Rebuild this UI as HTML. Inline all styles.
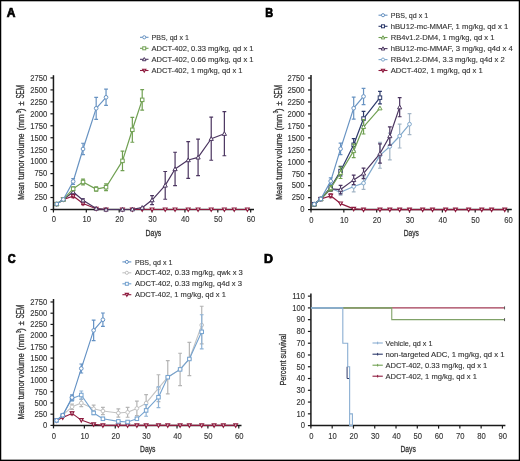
<!DOCTYPE html>
<html><head><meta charset="utf-8"><style>
html,body{margin:0;padding:0;background:#fff;}
svg{display:block;will-change:transform;}
text{font-family:"Liberation Sans", sans-serif;stroke:#333;stroke-width:0.12px;}
</style></head><body>
<svg width="520" height="461" viewBox="0 0 520 461">
<rect x="0" y="0" width="520" height="461" fill="#fff"/>
<text x="6.80" y="16.60" font-size="12" text-anchor="start" fill="#000" font-weight="bold" style="stroke:#000;stroke-width:0.7px">A</text>
<path d="M53.45,75.20 V210.25" stroke="#1a1a1a" stroke-width="1.5"/>
<path d="M52.70,209.50 H254.00" stroke="#1a1a1a" stroke-width="1.5"/>
<path d="M50.45,209.50 H53.45" stroke="#1a1a1a" stroke-width="1.2"/>
<text x="47.20" y="212.30" font-size="8.6" text-anchor="end" fill="#333333" font-weight="normal" textLength="4.25" lengthAdjust="spacingAndGlyphs">0</text>
<path d="M50.45,197.54 H53.45" stroke="#1a1a1a" stroke-width="1.2"/>
<text x="47.20" y="200.34" font-size="8.6" text-anchor="end" fill="#333333" font-weight="normal" textLength="12.75" lengthAdjust="spacingAndGlyphs">250</text>
<path d="M50.45,185.58 H53.45" stroke="#1a1a1a" stroke-width="1.2"/>
<text x="47.20" y="188.38" font-size="8.6" text-anchor="end" fill="#333333" font-weight="normal" textLength="12.75" lengthAdjust="spacingAndGlyphs">500</text>
<path d="M50.45,173.62 H53.45" stroke="#1a1a1a" stroke-width="1.2"/>
<text x="47.20" y="176.42" font-size="8.6" text-anchor="end" fill="#333333" font-weight="normal" textLength="12.75" lengthAdjust="spacingAndGlyphs">750</text>
<path d="M50.45,161.66 H53.45" stroke="#1a1a1a" stroke-width="1.2"/>
<text x="47.20" y="164.46" font-size="8.6" text-anchor="end" fill="#333333" font-weight="normal" textLength="17.0" lengthAdjust="spacingAndGlyphs">1000</text>
<path d="M50.45,149.70 H53.45" stroke="#1a1a1a" stroke-width="1.2"/>
<text x="47.20" y="152.50" font-size="8.6" text-anchor="end" fill="#333333" font-weight="normal" textLength="17.0" lengthAdjust="spacingAndGlyphs">1250</text>
<path d="M50.45,137.74 H53.45" stroke="#1a1a1a" stroke-width="1.2"/>
<text x="47.20" y="140.54" font-size="8.6" text-anchor="end" fill="#333333" font-weight="normal" textLength="17.0" lengthAdjust="spacingAndGlyphs">1500</text>
<path d="M50.45,125.78 H53.45" stroke="#1a1a1a" stroke-width="1.2"/>
<text x="47.20" y="128.58" font-size="8.6" text-anchor="end" fill="#333333" font-weight="normal" textLength="17.0" lengthAdjust="spacingAndGlyphs">1750</text>
<path d="M50.45,113.82 H53.45" stroke="#1a1a1a" stroke-width="1.2"/>
<text x="47.20" y="116.62" font-size="8.6" text-anchor="end" fill="#333333" font-weight="normal" textLength="17.0" lengthAdjust="spacingAndGlyphs">2000</text>
<path d="M50.45,101.86 H53.45" stroke="#1a1a1a" stroke-width="1.2"/>
<text x="47.20" y="104.66" font-size="8.6" text-anchor="end" fill="#333333" font-weight="normal" textLength="17.0" lengthAdjust="spacingAndGlyphs">2250</text>
<path d="M50.45,89.90 H53.45" stroke="#1a1a1a" stroke-width="1.2"/>
<text x="47.20" y="92.70" font-size="8.6" text-anchor="end" fill="#333333" font-weight="normal" textLength="17.0" lengthAdjust="spacingAndGlyphs">2500</text>
<path d="M50.45,77.94 H53.45" stroke="#1a1a1a" stroke-width="1.2"/>
<text x="47.20" y="80.74" font-size="8.6" text-anchor="end" fill="#333333" font-weight="normal" textLength="17.0" lengthAdjust="spacingAndGlyphs">2750</text>
<path d="M53.45,209.50 V212.50" stroke="#1a1a1a" stroke-width="1.2"/>
<text x="53.85" y="222.40" font-size="8.6" text-anchor="middle" fill="#333333" font-weight="normal" textLength="4.25" lengthAdjust="spacingAndGlyphs">0</text>
<path d="M86.32,209.50 V212.50" stroke="#1a1a1a" stroke-width="1.2"/>
<text x="86.72" y="222.40" font-size="8.6" text-anchor="middle" fill="#333333" font-weight="normal" textLength="8.5" lengthAdjust="spacingAndGlyphs">10</text>
<path d="M119.19,209.50 V212.50" stroke="#1a1a1a" stroke-width="1.2"/>
<text x="119.59" y="222.40" font-size="8.6" text-anchor="middle" fill="#333333" font-weight="normal" textLength="8.5" lengthAdjust="spacingAndGlyphs">20</text>
<path d="M152.06,209.50 V212.50" stroke="#1a1a1a" stroke-width="1.2"/>
<text x="152.46" y="222.40" font-size="8.6" text-anchor="middle" fill="#333333" font-weight="normal" textLength="8.5" lengthAdjust="spacingAndGlyphs">30</text>
<path d="M184.93,209.50 V212.50" stroke="#1a1a1a" stroke-width="1.2"/>
<text x="185.33" y="222.40" font-size="8.6" text-anchor="middle" fill="#333333" font-weight="normal" textLength="8.5" lengthAdjust="spacingAndGlyphs">40</text>
<path d="M217.80,209.50 V212.50" stroke="#1a1a1a" stroke-width="1.2"/>
<text x="218.20" y="222.40" font-size="8.6" text-anchor="middle" fill="#333333" font-weight="normal" textLength="8.5" lengthAdjust="spacingAndGlyphs">50</text>
<path d="M250.67,209.50 V212.50" stroke="#1a1a1a" stroke-width="1.2"/>
<text x="251.07" y="222.40" font-size="8.6" text-anchor="middle" fill="#333333" font-weight="normal" textLength="8.5" lengthAdjust="spacingAndGlyphs">60</text>
<text transform="translate(24.10,199.80) rotate(-90)" font-size="9.30" fill="#333333" style="stroke-width:0.3px" textLength="17.50" lengthAdjust="spacingAndGlyphs">Mean</text>
<text transform="translate(24.10,179.70) rotate(-90)" font-size="9.30" fill="#333333" style="stroke-width:0.3px" textLength="19.90" lengthAdjust="spacingAndGlyphs">tumor</text>
<text transform="translate(24.10,158.40) rotate(-90)" font-size="9.30" fill="#333333" style="stroke-width:0.3px" textLength="25.00" lengthAdjust="spacingAndGlyphs">volume</text>
<text transform="translate(24.10,130.50) rotate(-90)" font-size="9.30" fill="#333333" style="stroke-width:0.3px" textLength="16.40" lengthAdjust="spacingAndGlyphs">(mm</text>
<text transform="translate(20.70,113.20) rotate(-90)" font-size="6.51" fill="#333333" style="stroke-width:0.3px" textLength="2.50" lengthAdjust="spacingAndGlyphs">3</text>
<text transform="translate(24.10,111.20) rotate(-90)" font-size="9.30" fill="#333333" style="stroke-width:0.3px" textLength="2.80" lengthAdjust="spacingAndGlyphs">)</text>
<text transform="translate(24.10,105.40) rotate(-90)" font-size="9.30" fill="#333333" style="stroke-width:0.3px" textLength="4.00" lengthAdjust="spacingAndGlyphs">±</text>
<text transform="translate(24.10,98.60) rotate(-90)" font-size="10.04" fill="#333333" style="stroke-width:0.3px" textLength="13.60" lengthAdjust="spacingAndGlyphs">SEM</text>
<text x="153.45" y="235.70" font-size="9.4" text-anchor="middle" fill="#333333" font-weight="normal" textLength="15.7" lengthAdjust="spacingAndGlyphs" style="stroke-width:0.3px">Days</text>
<path d="M56.74,204.00 L63.31,199.45 L73.17,196.10 L83.03,203.47 L96.18,208.78 L106.04,209.50 L122.48,209.50 L132.34,209.50 L142.20,209.50 L152.06,209.50 L165.21,209.50 L175.07,209.50 L188.22,209.50 L198.08,209.50 L211.23,209.50 L224.37,209.50 L234.24,209.50 L247.38,209.50" fill="none" stroke="#8e1a3e" stroke-width="1.2" stroke-linejoin="round"/>
<path d="M73.17,194.67 V197.54 M71.27,194.67 H75.07 M71.27,197.54 H75.07" stroke="#8e1a3e" stroke-width="1.2" fill="none"/>
<path d="M83.03,202.28 V204.67 M81.13,202.28 H84.93 M81.13,204.67 H84.93" stroke="#8e1a3e" stroke-width="1.2" fill="none"/>
<path d="M54.84,202.48 L58.64,202.48 L56.74,205.90 Z" fill="#fff" stroke="#8e1a3e" stroke-width="1.1"/>
<path d="M61.41,197.93 L65.21,197.93 L63.31,201.35 Z" fill="#fff" stroke="#8e1a3e" stroke-width="1.1"/>
<path d="M71.27,194.58 L75.07,194.58 L73.17,198.00 Z" fill="#fff" stroke="#8e1a3e" stroke-width="1.1"/>
<path d="M81.13,201.95 L84.93,201.95 L83.03,205.37 Z" fill="#fff" stroke="#8e1a3e" stroke-width="1.1"/>
<path d="M94.28,207.26 L98.08,207.26 L96.18,210.68 Z" fill="#fff" stroke="#8e1a3e" stroke-width="1.1"/>
<path d="M104.14,207.98 L107.94,207.98 L106.04,211.40 Z" fill="#fff" stroke="#8e1a3e" stroke-width="1.1"/>
<path d="M120.58,207.98 L124.38,207.98 L122.48,211.40 Z" fill="#fff" stroke="#8e1a3e" stroke-width="1.1"/>
<path d="M130.44,207.98 L134.24,207.98 L132.34,211.40 Z" fill="#fff" stroke="#8e1a3e" stroke-width="1.1"/>
<path d="M140.30,207.98 L144.10,207.98 L142.20,211.40 Z" fill="#fff" stroke="#8e1a3e" stroke-width="1.1"/>
<path d="M150.16,207.98 L153.96,207.98 L152.06,211.40 Z" fill="#fff" stroke="#8e1a3e" stroke-width="1.1"/>
<path d="M163.31,207.98 L167.11,207.98 L165.21,211.40 Z" fill="#fff" stroke="#8e1a3e" stroke-width="1.1"/>
<path d="M173.17,207.98 L176.97,207.98 L175.07,211.40 Z" fill="#fff" stroke="#8e1a3e" stroke-width="1.1"/>
<path d="M186.32,207.98 L190.12,207.98 L188.22,211.40 Z" fill="#fff" stroke="#8e1a3e" stroke-width="1.1"/>
<path d="M196.18,207.98 L199.98,207.98 L198.08,211.40 Z" fill="#fff" stroke="#8e1a3e" stroke-width="1.1"/>
<path d="M209.33,207.98 L213.13,207.98 L211.23,211.40 Z" fill="#fff" stroke="#8e1a3e" stroke-width="1.1"/>
<path d="M222.47,207.98 L226.27,207.98 L224.37,211.40 Z" fill="#fff" stroke="#8e1a3e" stroke-width="1.1"/>
<path d="M232.34,207.98 L236.14,207.98 L234.24,211.40 Z" fill="#fff" stroke="#8e1a3e" stroke-width="1.1"/>
<path d="M245.48,207.98 L249.28,207.98 L247.38,211.40 Z" fill="#fff" stroke="#8e1a3e" stroke-width="1.1"/>
<path d="M56.74,204.00 L63.31,199.45 L73.17,192.04 L83.03,200.27 L96.18,208.54 L106.04,209.50 L122.48,209.50 L132.34,209.26 L142.20,207.68 L152.06,200.08 L165.21,185.39 L175.07,168.98 L188.22,160.03 L198.08,157.35 L211.23,138.74 L224.37,133.72" fill="none" stroke="#4b3560" stroke-width="1.2" stroke-linejoin="round"/>
<path d="M73.17,190.60 V193.47 M71.27,190.60 H75.07 M71.27,193.47 H75.07" stroke="#4b3560" stroke-width="1.2" fill="none"/>
<path d="M83.03,198.83 V201.70 M81.13,198.83 H84.93 M81.13,201.70 H84.93" stroke="#4b3560" stroke-width="1.2" fill="none"/>
<path d="M152.06,195.53 V204.62 M150.16,195.53 H153.96 M150.16,204.62 H153.96" stroke="#4b3560" stroke-width="1.2" fill="none"/>
<path d="M165.21,171.52 V199.26 M163.31,171.52 H167.11 M163.31,199.26 H167.11" stroke="#4b3560" stroke-width="1.2" fill="none"/>
<path d="M175.07,152.24 V185.72 M173.17,152.24 H176.97 M173.17,185.72 H176.97" stroke="#4b3560" stroke-width="1.2" fill="none"/>
<path d="M188.22,141.62 V178.45 M186.32,141.62 H190.12 M186.32,178.45 H190.12" stroke="#4b3560" stroke-width="1.2" fill="none"/>
<path d="M198.08,139.18 V175.53 M196.18,139.18 H199.98 M196.18,175.53 H199.98" stroke="#4b3560" stroke-width="1.2" fill="none"/>
<path d="M211.23,117.22 V160.27 M209.33,117.22 H213.13 M209.33,160.27 H213.13" stroke="#4b3560" stroke-width="1.2" fill="none"/>
<path d="M224.37,111.72 V155.73 M222.47,111.72 H226.27 M222.47,155.73 H226.27" stroke="#4b3560" stroke-width="1.2" fill="none"/>
<path d="M56.74,201.90 L58.84,205.68 L54.64,205.68 Z" fill="#fff" stroke="#4b3560" stroke-width="1"/>
<path d="M63.31,197.35 L65.41,201.13 L61.21,201.13 Z" fill="#fff" stroke="#4b3560" stroke-width="1"/>
<path d="M73.17,189.94 L75.27,193.72 L71.07,193.72 Z" fill="#fff" stroke="#4b3560" stroke-width="1"/>
<path d="M83.03,198.17 L85.13,201.95 L80.93,201.95 Z" fill="#fff" stroke="#4b3560" stroke-width="1"/>
<path d="M96.18,206.44 L98.28,210.22 L94.08,210.22 Z" fill="#fff" stroke="#4b3560" stroke-width="1"/>
<path d="M106.04,207.40 L108.14,211.18 L103.94,211.18 Z" fill="#fff" stroke="#4b3560" stroke-width="1"/>
<path d="M122.48,207.40 L124.58,211.18 L120.38,211.18 Z" fill="#fff" stroke="#4b3560" stroke-width="1"/>
<path d="M132.34,207.16 L134.44,210.94 L130.24,210.94 Z" fill="#fff" stroke="#4b3560" stroke-width="1"/>
<path d="M142.20,205.58 L144.30,209.36 L140.10,209.36 Z" fill="#fff" stroke="#4b3560" stroke-width="1"/>
<path d="M152.06,197.98 L154.16,201.76 L149.96,201.76 Z" fill="#fff" stroke="#4b3560" stroke-width="1"/>
<path d="M165.21,183.29 L167.31,187.07 L163.11,187.07 Z" fill="#fff" stroke="#4b3560" stroke-width="1"/>
<path d="M175.07,166.88 L177.17,170.66 L172.97,170.66 Z" fill="#fff" stroke="#4b3560" stroke-width="1"/>
<path d="M188.22,157.93 L190.32,161.71 L186.12,161.71 Z" fill="#fff" stroke="#4b3560" stroke-width="1"/>
<path d="M198.08,155.25 L200.18,159.03 L195.98,159.03 Z" fill="#fff" stroke="#4b3560" stroke-width="1"/>
<path d="M211.23,136.64 L213.33,140.42 L209.13,140.42 Z" fill="#fff" stroke="#4b3560" stroke-width="1"/>
<path d="M224.37,131.62 L226.47,135.40 L222.27,135.40 Z" fill="#fff" stroke="#4b3560" stroke-width="1"/>
<path d="M56.74,204.00 L63.31,199.45 L73.17,188.79 L83.03,181.99 L96.18,189.12 L106.04,187.21 L122.48,160.85 L132.34,129.80 L142.20,99.85" fill="none" stroke="#70a052" stroke-width="1.2" stroke-linejoin="round"/>
<path d="M73.17,186.87 V190.70 M71.27,186.87 H75.07 M71.27,190.70 H75.07" stroke="#70a052" stroke-width="1.2" fill="none"/>
<path d="M83.03,179.12 V184.86 M81.13,179.12 H84.93 M81.13,184.86 H84.93" stroke="#70a052" stroke-width="1.2" fill="none"/>
<path d="M96.18,186.97 V191.27 M94.28,186.97 H98.08 M94.28,191.27 H98.08" stroke="#70a052" stroke-width="1.2" fill="none"/>
<path d="M106.04,183.86 V190.56 M104.14,183.86 H107.94 M104.14,190.56 H107.94" stroke="#70a052" stroke-width="1.2" fill="none"/>
<path d="M122.48,151.04 V170.65 M120.58,151.04 H124.38 M120.58,170.65 H124.38" stroke="#70a052" stroke-width="1.2" fill="none"/>
<path d="M132.34,117.36 V142.24 M130.44,117.36 H134.24 M130.44,142.24 H134.24" stroke="#70a052" stroke-width="1.2" fill="none"/>
<path d="M142.20,89.57 V110.14 M140.30,89.57 H144.10 M140.30,110.14 H144.10" stroke="#70a052" stroke-width="1.2" fill="none"/>
<rect x="54.99" y="202.25" width="3.50" height="3.50" fill="#fff" stroke="#70a052" stroke-width="1"/>
<rect x="61.56" y="197.70" width="3.50" height="3.50" fill="#fff" stroke="#70a052" stroke-width="1"/>
<rect x="71.42" y="187.04" width="3.50" height="3.50" fill="#fff" stroke="#70a052" stroke-width="1"/>
<rect x="81.28" y="180.24" width="3.50" height="3.50" fill="#fff" stroke="#70a052" stroke-width="1"/>
<rect x="94.43" y="187.37" width="3.50" height="3.50" fill="#fff" stroke="#70a052" stroke-width="1"/>
<rect x="104.29" y="185.46" width="3.50" height="3.50" fill="#fff" stroke="#70a052" stroke-width="1"/>
<rect x="120.73" y="159.10" width="3.50" height="3.50" fill="#fff" stroke="#70a052" stroke-width="1"/>
<rect x="130.59" y="128.05" width="3.50" height="3.50" fill="#fff" stroke="#70a052" stroke-width="1"/>
<rect x="140.45" y="98.10" width="3.50" height="3.50" fill="#fff" stroke="#70a052" stroke-width="1"/>
<path d="M56.74,204.00 L63.31,199.45 L73.17,181.47 L83.03,148.98 L96.18,108.32 L106.04,97.32" fill="none" stroke="#6893c2" stroke-width="1.2" stroke-linejoin="round"/>
<path d="M73.17,178.60 V184.34 M71.27,178.60 H75.07 M71.27,184.34 H75.07" stroke="#6893c2" stroke-width="1.2" fill="none"/>
<path d="M83.03,143.24 V154.72 M81.13,143.24 H84.93 M81.13,154.72 H84.93" stroke="#6893c2" stroke-width="1.2" fill="none"/>
<path d="M96.18,97.32 V119.32 M94.28,97.32 H98.08 M94.28,119.32 H98.08" stroke="#6893c2" stroke-width="1.2" fill="none"/>
<path d="M106.04,89.18 V105.45 M104.14,89.18 H107.94 M104.14,105.45 H107.94" stroke="#6893c2" stroke-width="1.2" fill="none"/>
<circle cx="56.74" cy="204.00" r="1.85" fill="#fff" stroke="#6893c2" stroke-width="1"/>
<circle cx="63.31" cy="199.45" r="1.85" fill="#fff" stroke="#6893c2" stroke-width="1"/>
<circle cx="73.17" cy="181.47" r="1.85" fill="#fff" stroke="#6893c2" stroke-width="1"/>
<circle cx="83.03" cy="148.98" r="1.85" fill="#fff" stroke="#6893c2" stroke-width="1"/>
<circle cx="96.18" cy="108.32" r="1.85" fill="#fff" stroke="#6893c2" stroke-width="1"/>
<circle cx="106.04" cy="97.32" r="1.85" fill="#fff" stroke="#6893c2" stroke-width="1"/>
<path d="M140,37.30 H148.5" stroke="#6893c2" stroke-width="1.1"/>
<circle cx="144.25" cy="37.30" r="1.57" fill="#fff" stroke="#6893c2" stroke-width="1"/>
<text x="151.50" y="39.90" font-size="7.5" text-anchor="start" fill="#333333" font-weight="normal" textLength="37.5" lengthAdjust="spacingAndGlyphs">PBS, qd x 1</text>
<path d="M140,48.30 H148.5" stroke="#70a052" stroke-width="1.1"/>
<rect x="142.76" y="46.81" width="2.98" height="2.98" fill="#fff" stroke="#70a052" stroke-width="1"/>
<text x="151.50" y="50.90" font-size="7.5" text-anchor="start" fill="#333333" font-weight="normal" textLength="102" lengthAdjust="spacingAndGlyphs">ADCT-402, 0.33 mg/kg, qd x 1</text>
<path d="M140,59.30 H148.5" stroke="#4b3560" stroke-width="1.1"/>
<path d="M144.25,57.52 L146.03,60.73 L142.47,60.73 Z" fill="#fff" stroke="#4b3560" stroke-width="1"/>
<text x="151.50" y="61.90" font-size="7.5" text-anchor="start" fill="#333333" font-weight="normal" textLength="102" lengthAdjust="spacingAndGlyphs">ADCT-402, 0.66 mg/kg, qd x 1</text>
<path d="M140,70.50 H148.5" stroke="#8e1a3e" stroke-width="1.1"/>
<path d="M142.63,69.21 L145.87,69.21 L144.25,72.11 Z" fill="#fff" stroke="#8e1a3e" stroke-width="1.1"/>
<text x="151.50" y="73.10" font-size="7.5" text-anchor="start" fill="#333333" font-weight="normal" textLength="91" lengthAdjust="spacingAndGlyphs">ADCT-402, 1 mg/kg, qd x 1</text>
<text x="265.30" y="16.60" font-size="12" text-anchor="start" fill="#000" font-weight="bold" textLength="7.9" lengthAdjust="spacingAndGlyphs" style="stroke:#000;stroke-width:0.7px">B</text>
<path d="M311.00,75.00 V210.35" stroke="#1a1a1a" stroke-width="1.5"/>
<path d="M310.25,209.60 H511.80" stroke="#1a1a1a" stroke-width="1.5"/>
<path d="M308.00,209.60 H311.0" stroke="#1a1a1a" stroke-width="1.2"/>
<text x="304.60" y="212.40" font-size="8.6" text-anchor="end" fill="#333333" font-weight="normal" textLength="4.25" lengthAdjust="spacingAndGlyphs">0</text>
<path d="M308.00,197.64 H311.0" stroke="#1a1a1a" stroke-width="1.2"/>
<text x="304.60" y="200.44" font-size="8.6" text-anchor="end" fill="#333333" font-weight="normal" textLength="12.75" lengthAdjust="spacingAndGlyphs">250</text>
<path d="M308.00,185.68 H311.0" stroke="#1a1a1a" stroke-width="1.2"/>
<text x="304.60" y="188.48" font-size="8.6" text-anchor="end" fill="#333333" font-weight="normal" textLength="12.75" lengthAdjust="spacingAndGlyphs">500</text>
<path d="M308.00,173.72 H311.0" stroke="#1a1a1a" stroke-width="1.2"/>
<text x="304.60" y="176.52" font-size="8.6" text-anchor="end" fill="#333333" font-weight="normal" textLength="12.75" lengthAdjust="spacingAndGlyphs">750</text>
<path d="M308.00,161.76 H311.0" stroke="#1a1a1a" stroke-width="1.2"/>
<text x="304.60" y="164.56" font-size="8.6" text-anchor="end" fill="#333333" font-weight="normal" textLength="17.0" lengthAdjust="spacingAndGlyphs">1000</text>
<path d="M308.00,149.80 H311.0" stroke="#1a1a1a" stroke-width="1.2"/>
<text x="304.60" y="152.60" font-size="8.6" text-anchor="end" fill="#333333" font-weight="normal" textLength="17.0" lengthAdjust="spacingAndGlyphs">1250</text>
<path d="M308.00,137.84 H311.0" stroke="#1a1a1a" stroke-width="1.2"/>
<text x="304.60" y="140.64" font-size="8.6" text-anchor="end" fill="#333333" font-weight="normal" textLength="17.0" lengthAdjust="spacingAndGlyphs">1500</text>
<path d="M308.00,125.88 H311.0" stroke="#1a1a1a" stroke-width="1.2"/>
<text x="304.60" y="128.68" font-size="8.6" text-anchor="end" fill="#333333" font-weight="normal" textLength="17.0" lengthAdjust="spacingAndGlyphs">1750</text>
<path d="M308.00,113.92 H311.0" stroke="#1a1a1a" stroke-width="1.2"/>
<text x="304.60" y="116.72" font-size="8.6" text-anchor="end" fill="#333333" font-weight="normal" textLength="17.0" lengthAdjust="spacingAndGlyphs">2000</text>
<path d="M308.00,101.96 H311.0" stroke="#1a1a1a" stroke-width="1.2"/>
<text x="304.60" y="104.76" font-size="8.6" text-anchor="end" fill="#333333" font-weight="normal" textLength="17.0" lengthAdjust="spacingAndGlyphs">2250</text>
<path d="M308.00,90.00 H311.0" stroke="#1a1a1a" stroke-width="1.2"/>
<text x="304.60" y="92.80" font-size="8.6" text-anchor="end" fill="#333333" font-weight="normal" textLength="17.0" lengthAdjust="spacingAndGlyphs">2500</text>
<path d="M308.00,78.04 H311.0" stroke="#1a1a1a" stroke-width="1.2"/>
<text x="304.60" y="80.84" font-size="8.6" text-anchor="end" fill="#333333" font-weight="normal" textLength="17.0" lengthAdjust="spacingAndGlyphs">2750</text>
<path d="M311.00,209.60 V212.60" stroke="#1a1a1a" stroke-width="1.2"/>
<text x="311.40" y="222.50" font-size="8.6" text-anchor="middle" fill="#333333" font-weight="normal" textLength="4.25" lengthAdjust="spacingAndGlyphs">0</text>
<path d="M343.84,209.60 V212.60" stroke="#1a1a1a" stroke-width="1.2"/>
<text x="344.24" y="222.50" font-size="8.6" text-anchor="middle" fill="#333333" font-weight="normal" textLength="8.5" lengthAdjust="spacingAndGlyphs">10</text>
<path d="M376.68,209.60 V212.60" stroke="#1a1a1a" stroke-width="1.2"/>
<text x="377.08" y="222.50" font-size="8.6" text-anchor="middle" fill="#333333" font-weight="normal" textLength="8.5" lengthAdjust="spacingAndGlyphs">20</text>
<path d="M409.52,209.60 V212.60" stroke="#1a1a1a" stroke-width="1.2"/>
<text x="409.92" y="222.50" font-size="8.6" text-anchor="middle" fill="#333333" font-weight="normal" textLength="8.5" lengthAdjust="spacingAndGlyphs">30</text>
<path d="M442.36,209.60 V212.60" stroke="#1a1a1a" stroke-width="1.2"/>
<text x="442.76" y="222.50" font-size="8.6" text-anchor="middle" fill="#333333" font-weight="normal" textLength="8.5" lengthAdjust="spacingAndGlyphs">40</text>
<path d="M475.20,209.60 V212.60" stroke="#1a1a1a" stroke-width="1.2"/>
<text x="475.60" y="222.50" font-size="8.6" text-anchor="middle" fill="#333333" font-weight="normal" textLength="8.5" lengthAdjust="spacingAndGlyphs">50</text>
<path d="M508.04,209.60 V212.60" stroke="#1a1a1a" stroke-width="1.2"/>
<text x="508.44" y="222.50" font-size="8.6" text-anchor="middle" fill="#333333" font-weight="normal" textLength="8.5" lengthAdjust="spacingAndGlyphs">60</text>
<text transform="translate(281.70,199.80) rotate(-90)" font-size="9.30" fill="#333333" style="stroke-width:0.3px" textLength="17.50" lengthAdjust="spacingAndGlyphs">Mean</text>
<text transform="translate(281.70,179.70) rotate(-90)" font-size="9.30" fill="#333333" style="stroke-width:0.3px" textLength="19.90" lengthAdjust="spacingAndGlyphs">tumor</text>
<text transform="translate(281.70,158.40) rotate(-90)" font-size="9.30" fill="#333333" style="stroke-width:0.3px" textLength="25.00" lengthAdjust="spacingAndGlyphs">volume</text>
<text transform="translate(281.70,130.50) rotate(-90)" font-size="9.30" fill="#333333" style="stroke-width:0.3px" textLength="16.40" lengthAdjust="spacingAndGlyphs">(mm</text>
<text transform="translate(278.30,113.20) rotate(-90)" font-size="6.51" fill="#333333" style="stroke-width:0.3px" textLength="2.50" lengthAdjust="spacingAndGlyphs">3</text>
<text transform="translate(281.70,111.20) rotate(-90)" font-size="9.30" fill="#333333" style="stroke-width:0.3px" textLength="2.80" lengthAdjust="spacingAndGlyphs">)</text>
<text transform="translate(281.70,105.40) rotate(-90)" font-size="9.30" fill="#333333" style="stroke-width:0.3px" textLength="4.00" lengthAdjust="spacingAndGlyphs">±</text>
<text transform="translate(281.70,98.60) rotate(-90)" font-size="10.04" fill="#333333" style="stroke-width:0.3px" textLength="13.60" lengthAdjust="spacingAndGlyphs">SEM</text>
<text x="411.30" y="235.80" font-size="9.4" text-anchor="middle" fill="#333333" font-weight="normal" textLength="15.2" lengthAdjust="spacingAndGlyphs" style="stroke-width:0.3px">Days</text>
<path d="M314.28,204.19 L320.85,198.98 L330.70,195.82 L340.56,203.57 L353.69,208.88 L363.54,209.60 L379.96,209.60 L389.82,209.60 L399.67,209.60 L409.52,209.60 L422.66,209.60 L432.51,209.60 L445.64,209.60 L455.50,209.60 L468.63,209.60 L481.77,209.60 L491.62,209.60 L504.76,209.60" fill="none" stroke="#8e1a3e" stroke-width="1.2" stroke-linejoin="round"/>
<path d="M330.70,193.91 V197.74 M328.80,193.91 H332.60 M328.80,197.74 H332.60" stroke="#8e1a3e" stroke-width="1.2" fill="none"/>
<path d="M312.38,202.67 L316.18,202.67 L314.28,206.09 Z" fill="#fff" stroke="#8e1a3e" stroke-width="1.1"/>
<path d="M318.95,197.46 L322.75,197.46 L320.85,200.88 Z" fill="#fff" stroke="#8e1a3e" stroke-width="1.1"/>
<path d="M328.80,194.30 L332.60,194.30 L330.70,197.72 Z" fill="#fff" stroke="#8e1a3e" stroke-width="1.1"/>
<path d="M338.66,202.05 L342.46,202.05 L340.56,205.47 Z" fill="#fff" stroke="#8e1a3e" stroke-width="1.1"/>
<path d="M351.79,207.36 L355.59,207.36 L353.69,210.78 Z" fill="#fff" stroke="#8e1a3e" stroke-width="1.1"/>
<path d="M361.64,208.08 L365.44,208.08 L363.54,211.50 Z" fill="#fff" stroke="#8e1a3e" stroke-width="1.1"/>
<path d="M378.06,208.08 L381.86,208.08 L379.96,211.50 Z" fill="#fff" stroke="#8e1a3e" stroke-width="1.1"/>
<path d="M387.92,208.08 L391.72,208.08 L389.82,211.50 Z" fill="#fff" stroke="#8e1a3e" stroke-width="1.1"/>
<path d="M397.77,208.08 L401.57,208.08 L399.67,211.50 Z" fill="#fff" stroke="#8e1a3e" stroke-width="1.1"/>
<path d="M407.62,208.08 L411.42,208.08 L409.52,211.50 Z" fill="#fff" stroke="#8e1a3e" stroke-width="1.1"/>
<path d="M420.76,208.08 L424.56,208.08 L422.66,211.50 Z" fill="#fff" stroke="#8e1a3e" stroke-width="1.1"/>
<path d="M430.61,208.08 L434.41,208.08 L432.51,211.50 Z" fill="#fff" stroke="#8e1a3e" stroke-width="1.1"/>
<path d="M443.74,208.08 L447.54,208.08 L445.64,211.50 Z" fill="#fff" stroke="#8e1a3e" stroke-width="1.1"/>
<path d="M453.60,208.08 L457.40,208.08 L455.50,211.50 Z" fill="#fff" stroke="#8e1a3e" stroke-width="1.1"/>
<path d="M466.73,208.08 L470.53,208.08 L468.63,211.50 Z" fill="#fff" stroke="#8e1a3e" stroke-width="1.1"/>
<path d="M479.87,208.08 L483.67,208.08 L481.77,211.50 Z" fill="#fff" stroke="#8e1a3e" stroke-width="1.1"/>
<path d="M489.72,208.08 L493.52,208.08 L491.62,211.50 Z" fill="#fff" stroke="#8e1a3e" stroke-width="1.1"/>
<path d="M502.86,208.08 L506.66,208.08 L504.76,211.50 Z" fill="#fff" stroke="#8e1a3e" stroke-width="1.1"/>
<path d="M314.28,204.19 L320.85,198.98 L330.70,188.55 L340.56,192.28 L353.69,186.54 L363.54,183.10 L379.96,155.35 L389.82,146.50 L399.67,136.02 L409.52,124.16" fill="none" stroke="#7fa8cc" stroke-width="1.2" stroke-linejoin="round"/>
<path d="M330.70,186.16 V190.94 M328.80,186.16 H332.60 M328.80,190.94 H332.60" stroke="#a3b5c6" stroke-width="1.2" fill="none"/>
<path d="M340.56,189.41 V195.15 M338.66,189.41 H342.46 M338.66,195.15 H342.46" stroke="#a3b5c6" stroke-width="1.2" fill="none"/>
<path d="M353.69,181.28 V191.80 M351.79,181.28 H355.59 M351.79,191.80 H355.59" stroke="#a3b5c6" stroke-width="1.2" fill="none"/>
<path d="M363.54,176.88 V189.32 M361.64,176.88 H365.44 M361.64,189.32 H365.44" stroke="#a3b5c6" stroke-width="1.2" fill="none"/>
<path d="M379.96,142.43 V168.27 M378.06,142.43 H381.86 M378.06,168.27 H381.86" stroke="#a3b5c6" stroke-width="1.2" fill="none"/>
<path d="M389.82,133.10 V159.89 M387.92,133.10 H391.72 M387.92,159.89 H391.72" stroke="#a3b5c6" stroke-width="1.2" fill="none"/>
<path d="M399.67,124.06 V147.98 M397.77,124.06 H401.57 M397.77,147.98 H401.57" stroke="#a3b5c6" stroke-width="1.2" fill="none"/>
<path d="M409.52,113.63 V134.68 M407.62,113.63 H411.42 M407.62,134.68 H411.42" stroke="#a3b5c6" stroke-width="1.2" fill="none"/>
<circle cx="314.28" cy="204.19" r="1.85" fill="#fff" stroke="#7fa8cc" stroke-width="1"/>
<circle cx="320.85" cy="198.98" r="1.85" fill="#fff" stroke="#7fa8cc" stroke-width="1"/>
<circle cx="330.70" cy="188.55" r="1.85" fill="#fff" stroke="#7fa8cc" stroke-width="1"/>
<circle cx="340.56" cy="192.28" r="1.85" fill="#fff" stroke="#7fa8cc" stroke-width="1"/>
<circle cx="353.69" cy="186.54" r="1.85" fill="#fff" stroke="#7fa8cc" stroke-width="1"/>
<circle cx="363.54" cy="183.10" r="1.85" fill="#fff" stroke="#7fa8cc" stroke-width="1"/>
<circle cx="379.96" cy="155.35" r="1.85" fill="#fff" stroke="#7fa8cc" stroke-width="1"/>
<circle cx="389.82" cy="146.50" r="1.85" fill="#fff" stroke="#7fa8cc" stroke-width="1"/>
<circle cx="399.67" cy="136.02" r="1.85" fill="#fff" stroke="#7fa8cc" stroke-width="1"/>
<circle cx="409.52" cy="124.16" r="1.85" fill="#fff" stroke="#7fa8cc" stroke-width="1"/>
<path d="M314.28,204.19 L320.85,198.98 L330.70,188.79 L340.56,189.60 L353.69,179.89 L363.54,173.39 L379.96,153.53 L389.82,136.02 L399.67,107.17" fill="none" stroke="#4b3560" stroke-width="1.2" stroke-linejoin="round"/>
<path d="M330.70,186.40 V191.18 M328.80,186.40 H332.60 M328.80,191.18 H332.60" stroke="#4b3560" stroke-width="1.2" fill="none"/>
<path d="M340.56,185.30 V193.91 M338.66,185.30 H342.46 M338.66,193.91 H342.46" stroke="#4b3560" stroke-width="1.2" fill="none"/>
<path d="M353.69,175.11 V184.68 M351.79,175.11 H355.59 M351.79,184.68 H355.59" stroke="#4b3560" stroke-width="1.2" fill="none"/>
<path d="M363.54,168.12 V178.65 M361.64,168.12 H365.44 M361.64,178.65 H365.44" stroke="#4b3560" stroke-width="1.2" fill="none"/>
<path d="M379.96,143.96 V163.10 M378.06,143.96 H381.86 M378.06,163.10 H381.86" stroke="#4b3560" stroke-width="1.2" fill="none"/>
<path d="M389.82,126.93 V145.11 M387.92,126.93 H391.72 M387.92,145.11 H391.72" stroke="#4b3560" stroke-width="1.2" fill="none"/>
<path d="M399.67,97.61 V116.74 M397.77,97.61 H401.57 M397.77,116.74 H401.57" stroke="#4b3560" stroke-width="1.2" fill="none"/>
<path d="M314.28,202.09 L316.38,205.87 L312.18,205.87 Z" fill="#fff" stroke="#4b3560" stroke-width="1"/>
<path d="M320.85,196.88 L322.95,200.66 L318.75,200.66 Z" fill="#fff" stroke="#4b3560" stroke-width="1"/>
<path d="M330.70,186.69 L332.80,190.47 L328.60,190.47 Z" fill="#fff" stroke="#4b3560" stroke-width="1"/>
<path d="M340.56,187.50 L342.66,191.28 L338.46,191.28 Z" fill="#fff" stroke="#4b3560" stroke-width="1"/>
<path d="M353.69,177.79 L355.79,181.57 L351.59,181.57 Z" fill="#fff" stroke="#4b3560" stroke-width="1"/>
<path d="M363.54,171.29 L365.64,175.07 L361.44,175.07 Z" fill="#fff" stroke="#4b3560" stroke-width="1"/>
<path d="M379.96,151.43 L382.06,155.21 L377.86,155.21 Z" fill="#fff" stroke="#4b3560" stroke-width="1"/>
<path d="M389.82,133.92 L391.92,137.70 L387.72,137.70 Z" fill="#fff" stroke="#4b3560" stroke-width="1"/>
<path d="M399.67,105.07 L401.77,108.85 L397.57,108.85 Z" fill="#fff" stroke="#4b3560" stroke-width="1"/>
<path d="M314.28,204.19 L320.85,198.98 L330.70,187.35 L340.56,171.09 L353.69,144.78 L363.54,118.56 L379.96,97.65" fill="none" stroke="#2d3a6b" stroke-width="1.2" stroke-linejoin="round"/>
<path d="M330.70,184.48 V190.22 M328.80,184.48 H332.60 M328.80,190.22 H332.60" stroke="#2d3a6b" stroke-width="1.2" fill="none"/>
<path d="M340.56,166.30 V175.87 M338.66,166.30 H342.46 M338.66,175.87 H342.46" stroke="#2d3a6b" stroke-width="1.2" fill="none"/>
<path d="M353.69,138.56 V151.00 M351.79,138.56 H355.59 M351.79,151.00 H355.59" stroke="#2d3a6b" stroke-width="1.2" fill="none"/>
<path d="M363.54,111.38 V125.74 M361.64,111.38 H365.44 M361.64,125.74 H365.44" stroke="#2d3a6b" stroke-width="1.2" fill="none"/>
<path d="M379.96,91.44 V103.87 M378.06,91.44 H381.86 M378.06,103.87 H381.86" stroke="#2d3a6b" stroke-width="1.2" fill="none"/>
<rect x="312.53" y="202.44" width="3.50" height="3.50" fill="#fff" stroke="#2d3a6b" stroke-width="1"/>
<rect x="319.10" y="197.23" width="3.50" height="3.50" fill="#fff" stroke="#2d3a6b" stroke-width="1"/>
<rect x="328.95" y="185.60" width="3.50" height="3.50" fill="#fff" stroke="#2d3a6b" stroke-width="1"/>
<rect x="338.81" y="169.34" width="3.50" height="3.50" fill="#fff" stroke="#2d3a6b" stroke-width="1"/>
<rect x="351.94" y="143.03" width="3.50" height="3.50" fill="#fff" stroke="#2d3a6b" stroke-width="1"/>
<rect x="361.79" y="116.81" width="3.50" height="3.50" fill="#fff" stroke="#2d3a6b" stroke-width="1"/>
<rect x="378.21" y="95.90" width="3.50" height="3.50" fill="#fff" stroke="#2d3a6b" stroke-width="1"/>
<path d="M314.28,204.19 L320.85,198.98 L330.70,188.07 L340.56,172.76 L353.69,150.90 L363.54,126.84 L379.96,108.18" fill="none" stroke="#70a052" stroke-width="1.2" stroke-linejoin="round"/>
<path d="M330.70,185.20 V190.94 M328.80,185.20 H332.60 M328.80,190.94 H332.60" stroke="#70a052" stroke-width="1.2" fill="none"/>
<path d="M340.56,167.02 V178.50 M338.66,167.02 H342.46 M338.66,178.50 H342.46" stroke="#70a052" stroke-width="1.2" fill="none"/>
<path d="M353.69,144.20 V157.60 M351.79,144.20 H355.59 M351.79,157.60 H355.59" stroke="#70a052" stroke-width="1.2" fill="none"/>
<path d="M363.54,119.66 V134.01 M361.64,119.66 H365.44 M361.64,134.01 H365.44" stroke="#70a052" stroke-width="1.2" fill="none"/>
<path d="M314.28,202.09 L316.38,205.87 L312.18,205.87 Z" fill="#fff" stroke="#70a052" stroke-width="1"/>
<path d="M320.85,196.88 L322.95,200.66 L318.75,200.66 Z" fill="#fff" stroke="#70a052" stroke-width="1"/>
<path d="M330.70,185.97 L332.80,189.75 L328.60,189.75 Z" fill="#fff" stroke="#70a052" stroke-width="1"/>
<path d="M340.56,170.66 L342.66,174.44 L338.46,174.44 Z" fill="#fff" stroke="#70a052" stroke-width="1"/>
<path d="M353.69,148.80 L355.79,152.58 L351.59,152.58 Z" fill="#fff" stroke="#70a052" stroke-width="1"/>
<path d="M363.54,124.74 L365.64,128.52 L361.44,128.52 Z" fill="#fff" stroke="#70a052" stroke-width="1"/>
<path d="M379.96,106.08 L382.06,109.86 L377.86,109.86 Z" fill="#fff" stroke="#70a052" stroke-width="1"/>
<path d="M314.28,204.19 L320.85,198.98 L330.70,181.14 L340.56,148.80 L353.69,108.18 L363.54,96.46" fill="none" stroke="#6893c2" stroke-width="1.2" stroke-linejoin="round"/>
<path d="M330.70,177.79 V184.48 M328.80,177.79 H332.60 M328.80,184.48 H332.60" stroke="#6893c2" stroke-width="1.2" fill="none"/>
<path d="M340.56,143.05 V154.54 M338.66,143.05 H342.46 M338.66,154.54 H342.46" stroke="#6893c2" stroke-width="1.2" fill="none"/>
<path d="M353.69,97.18 V119.18 M351.79,97.18 H355.59 M351.79,119.18 H355.59" stroke="#6893c2" stroke-width="1.2" fill="none"/>
<path d="M363.54,88.33 V104.59 M361.64,88.33 H365.44 M361.64,104.59 H365.44" stroke="#6893c2" stroke-width="1.2" fill="none"/>
<circle cx="314.28" cy="204.19" r="1.85" fill="#fff" stroke="#6893c2" stroke-width="1"/>
<circle cx="320.85" cy="198.98" r="1.85" fill="#fff" stroke="#6893c2" stroke-width="1"/>
<circle cx="330.70" cy="181.14" r="1.85" fill="#fff" stroke="#6893c2" stroke-width="1"/>
<circle cx="340.56" cy="148.80" r="1.85" fill="#fff" stroke="#6893c2" stroke-width="1"/>
<circle cx="353.69" cy="108.18" r="1.85" fill="#fff" stroke="#6893c2" stroke-width="1"/>
<circle cx="363.54" cy="96.46" r="1.85" fill="#fff" stroke="#6893c2" stroke-width="1"/>
<path d="M378.5,15.20 H387.5" stroke="#6893c2" stroke-width="1.1"/>
<circle cx="383.00" cy="15.20" r="1.57" fill="#fff" stroke="#6893c2" stroke-width="1"/>
<text x="390.70" y="17.80" font-size="7.5" text-anchor="start" fill="#333333" font-weight="normal" textLength="37.5" lengthAdjust="spacingAndGlyphs">PBS, qd x 1</text>
<path d="M378.5,26.30 H387.5" stroke="#2d3a6b" stroke-width="1.1"/>
<rect x="381.51" y="24.81" width="2.98" height="2.98" fill="#fff" stroke="#2d3a6b" stroke-width="1"/>
<text x="390.70" y="28.90" font-size="7.5" text-anchor="start" fill="#333333" font-weight="normal" textLength="117.5" lengthAdjust="spacingAndGlyphs">hBU12-mc-MMAF, 1 mg/kg, qd x 1</text>
<path d="M378.5,37.50 H387.5" stroke="#70a052" stroke-width="1.1"/>
<path d="M383.00,35.72 L384.79,38.93 L381.21,38.93 Z" fill="#fff" stroke="#70a052" stroke-width="1"/>
<text x="390.70" y="40.10" font-size="7.5" text-anchor="start" fill="#333333" font-weight="normal" textLength="103.7" lengthAdjust="spacingAndGlyphs">RB4v1.2-DM4, 1 mg/kg, qd x 1</text>
<path d="M378.5,48.60 H387.5" stroke="#4b3560" stroke-width="1.1"/>
<path d="M383.00,46.82 L384.79,50.03 L381.21,50.03 Z" fill="#fff" stroke="#4b3560" stroke-width="1"/>
<text x="390.70" y="51.20" font-size="7.5" text-anchor="start" fill="#333333" font-weight="normal" textLength="122" lengthAdjust="spacingAndGlyphs">hBU12-mc-MMAF, 3 mg/kg, q4d x 4</text>
<path d="M378.5,59.60 H387.5" stroke="#7fa8cc" stroke-width="1.1"/>
<circle cx="383.00" cy="59.60" r="1.57" fill="#fff" stroke="#7fa8cc" stroke-width="1"/>
<text x="390.70" y="62.20" font-size="7.5" text-anchor="start" fill="#333333" font-weight="normal" textLength="114" lengthAdjust="spacingAndGlyphs">RB4v1.2-DM4, 3.3 mg/kg, q4d x 2</text>
<path d="M378.5,70.50 H387.5" stroke="#8e1a3e" stroke-width="1.1"/>
<path d="M381.38,69.21 L384.62,69.21 L383.00,72.11 Z" fill="#fff" stroke="#8e1a3e" stroke-width="1.1"/>
<text x="390.70" y="73.10" font-size="7.5" text-anchor="start" fill="#333333" font-weight="normal" textLength="92" lengthAdjust="spacingAndGlyphs">ADCT-402, 1 mg/kg, qd x 1</text>
<text x="7.70" y="263.00" font-size="12" text-anchor="start" fill="#000" font-weight="bold" textLength="7.9" lengthAdjust="spacingAndGlyphs" style="stroke:#000;stroke-width:0.7px">C</text>
<path d="M53.50,299.00 V426.15" stroke="#1a1a1a" stroke-width="1.5"/>
<path d="M52.75,425.40 H241.50" stroke="#1a1a1a" stroke-width="1.5"/>
<path d="M50.50,425.40 H53.5" stroke="#1a1a1a" stroke-width="1.2"/>
<text x="47.20" y="428.20" font-size="8.6" text-anchor="end" fill="#333333" font-weight="normal" textLength="4.25" lengthAdjust="spacingAndGlyphs">0</text>
<path d="M50.50,414.18 H53.5" stroke="#1a1a1a" stroke-width="1.2"/>
<text x="47.20" y="416.98" font-size="8.6" text-anchor="end" fill="#333333" font-weight="normal" textLength="12.75" lengthAdjust="spacingAndGlyphs">250</text>
<path d="M50.50,402.96 H53.5" stroke="#1a1a1a" stroke-width="1.2"/>
<text x="47.20" y="405.76" font-size="8.6" text-anchor="end" fill="#333333" font-weight="normal" textLength="12.75" lengthAdjust="spacingAndGlyphs">500</text>
<path d="M50.50,391.74 H53.5" stroke="#1a1a1a" stroke-width="1.2"/>
<text x="47.20" y="394.54" font-size="8.6" text-anchor="end" fill="#333333" font-weight="normal" textLength="12.75" lengthAdjust="spacingAndGlyphs">750</text>
<path d="M50.50,380.52 H53.5" stroke="#1a1a1a" stroke-width="1.2"/>
<text x="47.20" y="383.32" font-size="8.6" text-anchor="end" fill="#333333" font-weight="normal" textLength="17.0" lengthAdjust="spacingAndGlyphs">1000</text>
<path d="M50.50,369.30 H53.5" stroke="#1a1a1a" stroke-width="1.2"/>
<text x="47.20" y="372.10" font-size="8.6" text-anchor="end" fill="#333333" font-weight="normal" textLength="17.0" lengthAdjust="spacingAndGlyphs">1250</text>
<path d="M50.50,358.08 H53.5" stroke="#1a1a1a" stroke-width="1.2"/>
<text x="47.20" y="360.88" font-size="8.6" text-anchor="end" fill="#333333" font-weight="normal" textLength="17.0" lengthAdjust="spacingAndGlyphs">1500</text>
<path d="M50.50,346.86 H53.5" stroke="#1a1a1a" stroke-width="1.2"/>
<text x="47.20" y="349.66" font-size="8.6" text-anchor="end" fill="#333333" font-weight="normal" textLength="17.0" lengthAdjust="spacingAndGlyphs">1750</text>
<path d="M50.50,335.64 H53.5" stroke="#1a1a1a" stroke-width="1.2"/>
<text x="47.20" y="338.44" font-size="8.6" text-anchor="end" fill="#333333" font-weight="normal" textLength="17.0" lengthAdjust="spacingAndGlyphs">2000</text>
<path d="M50.50,324.42 H53.5" stroke="#1a1a1a" stroke-width="1.2"/>
<text x="47.20" y="327.22" font-size="8.6" text-anchor="end" fill="#333333" font-weight="normal" textLength="17.0" lengthAdjust="spacingAndGlyphs">2250</text>
<path d="M50.50,313.20 H53.5" stroke="#1a1a1a" stroke-width="1.2"/>
<text x="47.20" y="316.00" font-size="8.6" text-anchor="end" fill="#333333" font-weight="normal" textLength="17.0" lengthAdjust="spacingAndGlyphs">2500</text>
<path d="M50.50,301.98 H53.5" stroke="#1a1a1a" stroke-width="1.2"/>
<text x="47.20" y="304.78" font-size="8.6" text-anchor="end" fill="#333333" font-weight="normal" textLength="17.0" lengthAdjust="spacingAndGlyphs">2750</text>
<path d="M53.50,425.40 V428.40" stroke="#1a1a1a" stroke-width="1.2"/>
<text x="53.90" y="438.50" font-size="8.6" text-anchor="middle" fill="#333333" font-weight="normal" textLength="4.25" lengthAdjust="spacingAndGlyphs">0</text>
<path d="M84.38,425.40 V428.40" stroke="#1a1a1a" stroke-width="1.2"/>
<text x="84.78" y="438.50" font-size="8.6" text-anchor="middle" fill="#333333" font-weight="normal" textLength="8.5" lengthAdjust="spacingAndGlyphs">10</text>
<path d="M115.26,425.40 V428.40" stroke="#1a1a1a" stroke-width="1.2"/>
<text x="115.66" y="438.50" font-size="8.6" text-anchor="middle" fill="#333333" font-weight="normal" textLength="8.5" lengthAdjust="spacingAndGlyphs">20</text>
<path d="M146.14,425.40 V428.40" stroke="#1a1a1a" stroke-width="1.2"/>
<text x="146.54" y="438.50" font-size="8.6" text-anchor="middle" fill="#333333" font-weight="normal" textLength="8.5" lengthAdjust="spacingAndGlyphs">30</text>
<path d="M177.02,425.40 V428.40" stroke="#1a1a1a" stroke-width="1.2"/>
<text x="177.42" y="438.50" font-size="8.6" text-anchor="middle" fill="#333333" font-weight="normal" textLength="8.5" lengthAdjust="spacingAndGlyphs">40</text>
<path d="M207.90,425.40 V428.40" stroke="#1a1a1a" stroke-width="1.2"/>
<text x="208.30" y="438.50" font-size="8.6" text-anchor="middle" fill="#333333" font-weight="normal" textLength="8.5" lengthAdjust="spacingAndGlyphs">50</text>
<path d="M238.78,425.40 V428.40" stroke="#1a1a1a" stroke-width="1.2"/>
<text x="239.18" y="438.50" font-size="8.6" text-anchor="middle" fill="#333333" font-weight="normal" textLength="8.5" lengthAdjust="spacingAndGlyphs">60</text>
<text transform="translate(24.00,419.60) rotate(-90)" font-size="9.30" fill="#333333" style="stroke-width:0.3px" textLength="17.50" lengthAdjust="spacingAndGlyphs">Mean</text>
<text transform="translate(24.00,399.50) rotate(-90)" font-size="9.30" fill="#333333" style="stroke-width:0.3px" textLength="19.90" lengthAdjust="spacingAndGlyphs">tumor</text>
<text transform="translate(24.00,378.20) rotate(-90)" font-size="9.30" fill="#333333" style="stroke-width:0.3px" textLength="25.00" lengthAdjust="spacingAndGlyphs">volume</text>
<text transform="translate(24.00,350.30) rotate(-90)" font-size="9.30" fill="#333333" style="stroke-width:0.3px" textLength="16.40" lengthAdjust="spacingAndGlyphs">(mm</text>
<text transform="translate(20.60,333.00) rotate(-90)" font-size="6.51" fill="#333333" style="stroke-width:0.3px" textLength="2.50" lengthAdjust="spacingAndGlyphs">3</text>
<text transform="translate(24.00,331.00) rotate(-90)" font-size="9.30" fill="#333333" style="stroke-width:0.3px" textLength="2.80" lengthAdjust="spacingAndGlyphs">)</text>
<text transform="translate(24.00,325.20) rotate(-90)" font-size="9.30" fill="#333333" style="stroke-width:0.3px" textLength="4.00" lengthAdjust="spacingAndGlyphs">±</text>
<text transform="translate(24.00,318.40) rotate(-90)" font-size="10.04" fill="#333333" style="stroke-width:0.3px" textLength="13.60" lengthAdjust="spacingAndGlyphs">SEM</text>
<text x="147.70" y="451.50" font-size="9.4" text-anchor="middle" fill="#333333" font-weight="normal" textLength="15.4" lengthAdjust="spacingAndGlyphs" style="stroke-width:0.3px">Days</text>
<path d="M56.59,420.42 L62.76,417.50 L72.03,413.42 L81.29,420.10 L93.64,424.41 L102.91,425.40 L118.35,425.40 L127.61,425.40 L136.88,425.40 L146.14,425.40 L158.49,425.40 L167.76,425.40 L180.11,425.40 L189.37,425.40 L201.72,425.40 L214.08,425.40 L223.34,425.40 L235.69,425.40" fill="none" stroke="#8e1b3e" stroke-width="1.1" stroke-linejoin="round"/>
<path d="M72.03,412.07 V414.76 M70.13,412.07 H73.93 M70.13,414.76 H73.93" stroke="#8e1b3e" stroke-width="1.2" fill="none"/>
<path d="M54.69,418.90 L58.49,418.90 L56.59,422.32 Z" fill="#fff" stroke="#8e1b3e" stroke-width="1.1"/>
<path d="M60.86,415.98 L64.66,415.98 L62.76,419.40 Z" fill="#fff" stroke="#8e1b3e" stroke-width="1.1"/>
<path d="M70.13,411.90 L73.93,411.90 L72.03,415.32 Z" fill="#fff" stroke="#8e1b3e" stroke-width="1.1"/>
<path d="M79.39,418.58 L83.19,418.58 L81.29,422.00 Z" fill="#fff" stroke="#8e1b3e" stroke-width="1.1"/>
<path d="M91.74,422.89 L95.54,422.89 L93.64,426.31 Z" fill="#fff" stroke="#8e1b3e" stroke-width="1.1"/>
<path d="M101.01,423.88 L104.81,423.88 L102.91,427.30 Z" fill="#fff" stroke="#8e1b3e" stroke-width="1.1"/>
<path d="M116.45,423.88 L120.25,423.88 L118.35,427.30 Z" fill="#fff" stroke="#8e1b3e" stroke-width="1.1"/>
<path d="M125.71,423.88 L129.51,423.88 L127.61,427.30 Z" fill="#fff" stroke="#8e1b3e" stroke-width="1.1"/>
<path d="M134.98,423.88 L138.78,423.88 L136.88,427.30 Z" fill="#fff" stroke="#8e1b3e" stroke-width="1.1"/>
<path d="M144.24,423.88 L148.04,423.88 L146.14,427.30 Z" fill="#fff" stroke="#8e1b3e" stroke-width="1.1"/>
<path d="M156.59,423.88 L160.39,423.88 L158.49,427.30 Z" fill="#fff" stroke="#8e1b3e" stroke-width="1.1"/>
<path d="M165.86,423.88 L169.66,423.88 L167.76,427.30 Z" fill="#fff" stroke="#8e1b3e" stroke-width="1.1"/>
<path d="M178.21,423.88 L182.01,423.88 L180.11,427.30 Z" fill="#fff" stroke="#8e1b3e" stroke-width="1.1"/>
<path d="M187.47,423.88 L191.27,423.88 L189.37,427.30 Z" fill="#fff" stroke="#8e1b3e" stroke-width="1.1"/>
<path d="M199.82,423.88 L203.62,423.88 L201.72,427.30 Z" fill="#fff" stroke="#8e1b3e" stroke-width="1.1"/>
<path d="M212.18,423.88 L215.98,423.88 L214.08,427.30 Z" fill="#fff" stroke="#8e1b3e" stroke-width="1.1"/>
<path d="M221.44,423.88 L225.24,423.88 L223.34,427.30 Z" fill="#fff" stroke="#8e1b3e" stroke-width="1.1"/>
<path d="M233.79,423.88 L237.59,423.88 L235.69,427.30 Z" fill="#fff" stroke="#8e1b3e" stroke-width="1.1"/>
<path d="M56.59,420.42 L62.76,415.21 L72.03,406.82 L81.29,403.00 L93.64,408.79 L102.91,410.99 L118.35,413.01 L127.61,412.30 L136.88,408.39 L146.14,403.18 L158.49,388.19 L167.76,377.20 L180.11,369.39 L189.37,358.98 L201.72,325.09" fill="none" stroke="#c2c2c2" stroke-width="1.1" stroke-linejoin="round"/>
<path d="M72.03,404.13 V409.51 M70.13,404.13 H73.93 M70.13,409.51 H73.93" stroke="#b5b5b5" stroke-width="1.2" fill="none"/>
<path d="M81.29,399.41 V406.60 M79.39,399.41 H83.19 M79.39,406.60 H83.19" stroke="#b5b5b5" stroke-width="1.2" fill="none"/>
<path d="M93.64,405.20 V412.38 M91.74,405.20 H95.54 M91.74,412.38 H95.54" stroke="#b5b5b5" stroke-width="1.2" fill="none"/>
<path d="M102.91,407.40 V414.58 M101.01,407.40 H104.81 M101.01,414.58 H104.81" stroke="#b5b5b5" stroke-width="1.2" fill="none"/>
<path d="M118.35,408.97 V417.05 M116.45,408.97 H120.25 M116.45,417.05 H120.25" stroke="#b5b5b5" stroke-width="1.2" fill="none"/>
<path d="M127.61,407.36 V417.23 M125.71,407.36 H129.51 M125.71,417.23 H129.51" stroke="#b5b5b5" stroke-width="1.2" fill="none"/>
<path d="M136.88,401.21 V415.57 M134.98,401.21 H138.78 M134.98,415.57 H138.78" stroke="#b5b5b5" stroke-width="1.2" fill="none"/>
<path d="M146.14,394.66 V411.71 M144.24,394.66 H148.04 M144.24,411.71 H148.04" stroke="#b5b5b5" stroke-width="1.2" fill="none"/>
<path d="M158.49,374.73 V401.66 M156.59,374.73 H160.39 M156.59,401.66 H160.39" stroke="#b5b5b5" stroke-width="1.2" fill="none"/>
<path d="M167.76,360.59 V393.80 M165.86,360.59 H169.66 M165.86,393.80 H169.66" stroke="#b5b5b5" stroke-width="1.2" fill="none"/>
<path d="M180.11,353.23 V385.55 M178.21,353.23 H182.01 M178.21,385.55 H182.01" stroke="#b5b5b5" stroke-width="1.2" fill="none"/>
<path d="M189.37,342.37 V375.58 M187.47,342.37 H191.27 M187.47,375.58 H191.27" stroke="#b5b5b5" stroke-width="1.2" fill="none"/>
<path d="M201.72,306.24 V343.94 M199.82,306.24 H203.62 M199.82,343.94 H203.62" stroke="#b5b5b5" stroke-width="1.2" fill="none"/>
<circle cx="56.59" cy="420.42" r="1.85" fill="#fff" stroke="#c2c2c2" stroke-width="1"/>
<circle cx="62.76" cy="415.21" r="1.85" fill="#fff" stroke="#c2c2c2" stroke-width="1"/>
<circle cx="72.03" cy="406.82" r="1.85" fill="#fff" stroke="#c2c2c2" stroke-width="1"/>
<circle cx="81.29" cy="403.00" r="1.85" fill="#fff" stroke="#c2c2c2" stroke-width="1"/>
<circle cx="93.64" cy="408.79" r="1.85" fill="#fff" stroke="#c2c2c2" stroke-width="1"/>
<circle cx="102.91" cy="410.99" r="1.85" fill="#fff" stroke="#c2c2c2" stroke-width="1"/>
<circle cx="118.35" cy="413.01" r="1.85" fill="#fff" stroke="#c2c2c2" stroke-width="1"/>
<circle cx="127.61" cy="412.30" r="1.85" fill="#fff" stroke="#c2c2c2" stroke-width="1"/>
<circle cx="136.88" cy="408.39" r="1.85" fill="#fff" stroke="#c2c2c2" stroke-width="1"/>
<circle cx="146.14" cy="403.18" r="1.85" fill="#fff" stroke="#c2c2c2" stroke-width="1"/>
<circle cx="158.49" cy="388.19" r="1.85" fill="#fff" stroke="#c2c2c2" stroke-width="1"/>
<circle cx="167.76" cy="377.20" r="1.85" fill="#fff" stroke="#c2c2c2" stroke-width="1"/>
<circle cx="180.11" cy="369.39" r="1.85" fill="#fff" stroke="#c2c2c2" stroke-width="1"/>
<circle cx="189.37" cy="358.98" r="1.85" fill="#fff" stroke="#c2c2c2" stroke-width="1"/>
<circle cx="201.72" cy="325.09" r="1.85" fill="#fff" stroke="#c2c2c2" stroke-width="1"/>
<path d="M56.59,420.42 L62.76,415.21 L72.03,398.47 L81.29,395.02 L93.64,412.92 L102.91,418.80 L118.35,421.41 L127.61,421.99 L136.88,418.80 L146.14,410.41 L158.49,397.22 L167.76,377.20 L180.11,369.39 L189.37,358.98 L201.72,331.83" fill="none" stroke="#74a2cf" stroke-width="1.1" stroke-linejoin="round"/>
<path d="M72.03,395.78 V401.16 M70.13,395.78 H73.93 M70.13,401.16 H73.93" stroke="#8fb3d6" stroke-width="1.2" fill="none"/>
<path d="M81.29,390.98 V399.06 M79.39,390.98 H83.19 M79.39,399.06 H83.19" stroke="#8fb3d6" stroke-width="1.2" fill="none"/>
<path d="M93.64,411.13 V414.72 M91.74,411.13 H95.54 M91.74,414.72 H95.54" stroke="#8fb3d6" stroke-width="1.2" fill="none"/>
<path d="M102.91,417.46 V420.15 M101.01,417.46 H104.81 M101.01,420.15 H104.81" stroke="#8fb3d6" stroke-width="1.2" fill="none"/>
<path d="M118.35,420.51 V422.30 M116.45,420.51 H120.25 M116.45,422.30 H120.25" stroke="#8fb3d6" stroke-width="1.2" fill="none"/>
<path d="M127.61,421.09 V422.89 M125.71,421.09 H129.51 M125.71,422.89 H129.51" stroke="#8fb3d6" stroke-width="1.2" fill="none"/>
<path d="M136.88,417.46 V420.15 M134.98,417.46 H138.78 M134.98,420.15 H138.78" stroke="#8fb3d6" stroke-width="1.2" fill="none"/>
<path d="M146.14,404.58 V416.24 M144.24,404.58 H148.04 M144.24,416.24 H148.04" stroke="#8fb3d6" stroke-width="1.2" fill="none"/>
<path d="M158.49,386.89 V407.54 M156.59,386.89 H160.39 M156.59,407.54 H160.39" stroke="#8fb3d6" stroke-width="1.2" fill="none"/>
<path d="M201.72,314.77 V348.88 M199.82,314.77 H203.62 M199.82,348.88 H203.62" stroke="#8fb3d6" stroke-width="1.2" fill="none"/>
<rect x="54.84" y="418.67" width="3.50" height="3.50" fill="#fff" stroke="#74a2cf" stroke-width="1"/>
<rect x="61.01" y="413.46" width="3.50" height="3.50" fill="#fff" stroke="#74a2cf" stroke-width="1"/>
<rect x="70.28" y="396.72" width="3.50" height="3.50" fill="#fff" stroke="#74a2cf" stroke-width="1"/>
<rect x="79.54" y="393.27" width="3.50" height="3.50" fill="#fff" stroke="#74a2cf" stroke-width="1"/>
<rect x="91.89" y="411.17" width="3.50" height="3.50" fill="#fff" stroke="#74a2cf" stroke-width="1"/>
<rect x="101.16" y="417.05" width="3.50" height="3.50" fill="#fff" stroke="#74a2cf" stroke-width="1"/>
<rect x="116.60" y="419.66" width="3.50" height="3.50" fill="#fff" stroke="#74a2cf" stroke-width="1"/>
<rect x="125.86" y="420.24" width="3.50" height="3.50" fill="#fff" stroke="#74a2cf" stroke-width="1"/>
<rect x="135.13" y="417.05" width="3.50" height="3.50" fill="#fff" stroke="#74a2cf" stroke-width="1"/>
<rect x="144.39" y="408.66" width="3.50" height="3.50" fill="#fff" stroke="#74a2cf" stroke-width="1"/>
<rect x="156.74" y="395.47" width="3.50" height="3.50" fill="#fff" stroke="#74a2cf" stroke-width="1"/>
<rect x="166.01" y="375.45" width="3.50" height="3.50" fill="#fff" stroke="#74a2cf" stroke-width="1"/>
<rect x="178.36" y="367.64" width="3.50" height="3.50" fill="#fff" stroke="#74a2cf" stroke-width="1"/>
<rect x="187.62" y="357.23" width="3.50" height="3.50" fill="#fff" stroke="#74a2cf" stroke-width="1"/>
<rect x="199.97" y="330.08" width="3.50" height="3.50" fill="#fff" stroke="#74a2cf" stroke-width="1"/>
<path d="M56.59,420.42 L62.76,415.21 L72.03,397.57 L81.29,368.49 L93.64,330.39 L102.91,319.71" fill="none" stroke="#6391c4" stroke-width="1.1" stroke-linejoin="round"/>
<path d="M72.03,394.88 V400.27 M70.13,394.88 H73.93 M70.13,400.27 H73.93" stroke="#6391c4" stroke-width="1.2" fill="none"/>
<path d="M81.29,364.00 V372.98 M79.39,364.00 H83.19 M79.39,372.98 H83.19" stroke="#6391c4" stroke-width="1.2" fill="none"/>
<path d="M93.64,320.07 V340.71 M91.74,320.07 H95.54 M91.74,340.71 H95.54" stroke="#6391c4" stroke-width="1.2" fill="none"/>
<path d="M102.91,312.98 V326.44 M101.01,312.98 H104.81 M101.01,326.44 H104.81" stroke="#6391c4" stroke-width="1.2" fill="none"/>
<circle cx="56.59" cy="420.42" r="1.85" fill="#fff" stroke="#6391c4" stroke-width="1"/>
<circle cx="62.76" cy="415.21" r="1.85" fill="#fff" stroke="#6391c4" stroke-width="1"/>
<circle cx="72.03" cy="397.57" r="1.85" fill="#fff" stroke="#6391c4" stroke-width="1"/>
<circle cx="81.29" cy="368.49" r="1.85" fill="#fff" stroke="#6391c4" stroke-width="1"/>
<circle cx="93.64" cy="330.39" r="1.85" fill="#fff" stroke="#6391c4" stroke-width="1"/>
<circle cx="102.91" cy="319.71" r="1.85" fill="#fff" stroke="#6391c4" stroke-width="1"/>
<path d="M122.4,261.90 H131.3" stroke="#6391c4" stroke-width="1.1"/>
<circle cx="126.85" cy="261.90" r="1.57" fill="#fff" stroke="#6391c4" stroke-width="1"/>
<text x="134.90" y="264.50" font-size="7.5" text-anchor="start" fill="#333333" font-weight="normal" textLength="37.5" lengthAdjust="spacingAndGlyphs">PBS, qd x 1</text>
<path d="M122.4,272.80 H131.3" stroke="#c2c2c2" stroke-width="1.1"/>
<circle cx="126.85" cy="272.80" r="1.57" fill="#fff" stroke="#c2c2c2" stroke-width="1"/>
<text x="134.90" y="275.40" font-size="7.5" text-anchor="start" fill="#333333" font-weight="normal" textLength="108" lengthAdjust="spacingAndGlyphs">ADCT-402, 0.33 mg/kg, qwk x 3</text>
<path d="M122.4,283.80 H131.3" stroke="#74a2cf" stroke-width="1.1"/>
<rect x="125.36" y="282.31" width="2.98" height="2.98" fill="#fff" stroke="#74a2cf" stroke-width="1"/>
<text x="134.90" y="286.40" font-size="7.5" text-anchor="start" fill="#333333" font-weight="normal" textLength="107.2" lengthAdjust="spacingAndGlyphs">ADCT-402, 0.33 mg/kg, q4d x 3</text>
<path d="M122.4,294.70 H131.3" stroke="#8e1a3e" stroke-width="1.1"/>
<path d="M125.24,293.41 L128.47,293.41 L126.85,296.31 Z" fill="#fff" stroke="#8e1a3e" stroke-width="1.1"/>
<text x="134.90" y="297.30" font-size="7.5" text-anchor="start" fill="#333333" font-weight="normal" textLength="91" lengthAdjust="spacingAndGlyphs">ADCT-402, 1 mg/kg, qd x 1</text>
<text x="264.00" y="263.00" font-size="12" text-anchor="start" fill="#000" font-weight="bold" textLength="9.0" lengthAdjust="spacingAndGlyphs" style="stroke:#000;stroke-width:0.7px">D</text>
<path d="M310.90,293.50 V426.35" stroke="#1a1a1a" stroke-width="1.5"/>
<path d="M310.15,425.60 H505.40" stroke="#1a1a1a" stroke-width="1.5"/>
<path d="M307.90,425.60 H310.9" stroke="#1a1a1a" stroke-width="1.2"/>
<text x="305.00" y="428.40" font-size="8.6" text-anchor="end" fill="#333333" font-weight="normal" textLength="4.25" lengthAdjust="spacingAndGlyphs">0</text>
<path d="M307.90,413.83 H310.9" stroke="#1a1a1a" stroke-width="1.2"/>
<text x="305.00" y="416.63" font-size="8.6" text-anchor="end" fill="#333333" font-weight="normal" textLength="8.5" lengthAdjust="spacingAndGlyphs">10</text>
<path d="M307.90,402.06 H310.9" stroke="#1a1a1a" stroke-width="1.2"/>
<text x="305.00" y="404.86" font-size="8.6" text-anchor="end" fill="#333333" font-weight="normal" textLength="8.5" lengthAdjust="spacingAndGlyphs">20</text>
<path d="M307.90,390.29 H310.9" stroke="#1a1a1a" stroke-width="1.2"/>
<text x="305.00" y="393.09" font-size="8.6" text-anchor="end" fill="#333333" font-weight="normal" textLength="8.5" lengthAdjust="spacingAndGlyphs">30</text>
<path d="M307.90,378.52 H310.9" stroke="#1a1a1a" stroke-width="1.2"/>
<text x="305.00" y="381.32" font-size="8.6" text-anchor="end" fill="#333333" font-weight="normal" textLength="8.5" lengthAdjust="spacingAndGlyphs">40</text>
<path d="M307.90,366.75 H310.9" stroke="#1a1a1a" stroke-width="1.2"/>
<text x="305.00" y="369.55" font-size="8.6" text-anchor="end" fill="#333333" font-weight="normal" textLength="8.5" lengthAdjust="spacingAndGlyphs">50</text>
<path d="M307.90,354.98 H310.9" stroke="#1a1a1a" stroke-width="1.2"/>
<text x="305.00" y="357.78" font-size="8.6" text-anchor="end" fill="#333333" font-weight="normal" textLength="8.5" lengthAdjust="spacingAndGlyphs">60</text>
<path d="M307.90,343.21 H310.9" stroke="#1a1a1a" stroke-width="1.2"/>
<text x="305.00" y="346.01" font-size="8.6" text-anchor="end" fill="#333333" font-weight="normal" textLength="8.5" lengthAdjust="spacingAndGlyphs">70</text>
<path d="M307.90,331.44 H310.9" stroke="#1a1a1a" stroke-width="1.2"/>
<text x="305.00" y="334.24" font-size="8.6" text-anchor="end" fill="#333333" font-weight="normal" textLength="8.5" lengthAdjust="spacingAndGlyphs">80</text>
<path d="M307.90,319.67 H310.9" stroke="#1a1a1a" stroke-width="1.2"/>
<text x="305.00" y="322.47" font-size="8.6" text-anchor="end" fill="#333333" font-weight="normal" textLength="8.5" lengthAdjust="spacingAndGlyphs">90</text>
<path d="M307.90,307.90 H310.9" stroke="#1a1a1a" stroke-width="1.2"/>
<text x="305.00" y="310.70" font-size="8.6" text-anchor="end" fill="#333333" font-weight="normal" textLength="12.75" lengthAdjust="spacingAndGlyphs">100</text>
<path d="M307.90,296.13 H310.9" stroke="#1a1a1a" stroke-width="1.2"/>
<text x="305.00" y="298.93" font-size="8.6" text-anchor="end" fill="#333333" font-weight="normal" textLength="12.75" lengthAdjust="spacingAndGlyphs">110</text>
<path d="M310.90,425.60 V428.60" stroke="#1a1a1a" stroke-width="1.2"/>
<text x="311.30" y="438.80" font-size="8.6" text-anchor="middle" fill="#333333" font-weight="normal" textLength="4.25" lengthAdjust="spacingAndGlyphs">0</text>
<path d="M332.18,425.60 V428.60" stroke="#1a1a1a" stroke-width="1.2"/>
<text x="332.58" y="438.80" font-size="8.6" text-anchor="middle" fill="#333333" font-weight="normal" textLength="8.5" lengthAdjust="spacingAndGlyphs">10</text>
<path d="M353.46,425.60 V428.60" stroke="#1a1a1a" stroke-width="1.2"/>
<text x="353.86" y="438.80" font-size="8.6" text-anchor="middle" fill="#333333" font-weight="normal" textLength="8.5" lengthAdjust="spacingAndGlyphs">20</text>
<path d="M374.74,425.60 V428.60" stroke="#1a1a1a" stroke-width="1.2"/>
<text x="375.14" y="438.80" font-size="8.6" text-anchor="middle" fill="#333333" font-weight="normal" textLength="8.5" lengthAdjust="spacingAndGlyphs">30</text>
<path d="M396.02,425.60 V428.60" stroke="#1a1a1a" stroke-width="1.2"/>
<text x="396.42" y="438.80" font-size="8.6" text-anchor="middle" fill="#333333" font-weight="normal" textLength="8.5" lengthAdjust="spacingAndGlyphs">40</text>
<path d="M417.30,425.60 V428.60" stroke="#1a1a1a" stroke-width="1.2"/>
<text x="417.70" y="438.80" font-size="8.6" text-anchor="middle" fill="#333333" font-weight="normal" textLength="8.5" lengthAdjust="spacingAndGlyphs">50</text>
<path d="M438.58,425.60 V428.60" stroke="#1a1a1a" stroke-width="1.2"/>
<text x="438.98" y="438.80" font-size="8.6" text-anchor="middle" fill="#333333" font-weight="normal" textLength="8.5" lengthAdjust="spacingAndGlyphs">60</text>
<path d="M459.86,425.60 V428.60" stroke="#1a1a1a" stroke-width="1.2"/>
<text x="460.26" y="438.80" font-size="8.6" text-anchor="middle" fill="#333333" font-weight="normal" textLength="8.5" lengthAdjust="spacingAndGlyphs">70</text>
<path d="M481.14,425.60 V428.60" stroke="#1a1a1a" stroke-width="1.2"/>
<text x="481.54" y="438.80" font-size="8.6" text-anchor="middle" fill="#333333" font-weight="normal" textLength="8.5" lengthAdjust="spacingAndGlyphs">80</text>
<path d="M502.42,425.60 V428.60" stroke="#1a1a1a" stroke-width="1.2"/>
<text x="502.82" y="438.80" font-size="8.6" text-anchor="middle" fill="#333333" font-weight="normal" textLength="8.5" lengthAdjust="spacingAndGlyphs">90</text>
<text transform="translate(286.0,359.7) rotate(-90)" font-size="9.3" text-anchor="middle" fill="#333333" style="stroke-width:0.3px" textLength="51.8" lengthAdjust="spacingAndGlyphs">Percent survival</text>
<text x="408.10" y="451.50" font-size="9.4" text-anchor="middle" fill="#333333" font-weight="normal" textLength="15.4" lengthAdjust="spacingAndGlyphs" style="stroke-width:0.3px">Days</text>
<path d="M310.90,307.90 L504.55,307.90" fill="none" stroke="#a23a55" stroke-width="1.1"/>
<path d="M347.71,366.75 L347.08,366.75 L347.08,378.52 L349.63,378.52" fill="none" stroke="#2d3a6b" stroke-width="1.0"/>
<path d="M310.90,307.90 L391.76,307.90 L391.76,319.67 L504.55,319.67" fill="none" stroke="#80a268" stroke-width="1.1"/>
<path d="M310.90,307.90 L391.76,307.90" fill="none" stroke="#80a268" stroke-width="1.4"/>
<path d="M310.90,307.90 L342.82,307.90 L342.82,343.21 L347.71,343.21 L347.71,366.75 L349.63,366.75 L349.63,413.83 L352.40,413.83 L352.40,425.60 L349.63,425.60 L349.63,413.83" fill="none" stroke="#8aaed2" stroke-width="1.1"/>
<path d="M310.90,307.90 L342.82,307.90" fill="none" stroke="#8aaed2" stroke-width="1.5"/>
<path d="M504.55,306.40 V309.40 M504.55,318.17 V321.17" stroke="#555" stroke-width="1"/>
<path d="M372.5,343.00 H382.8" stroke="#8aaed2" stroke-width="1.1"/>
<path d="M377.65,341.70 V344.30" stroke="#8aaed2" stroke-width="1"/>
<text x="385.50" y="345.60" font-size="7.5" text-anchor="start" fill="#333333" font-weight="normal" textLength="47" lengthAdjust="spacingAndGlyphs">Vehicle, qd x 1</text>
<path d="M372.5,354.20 H382.8" stroke="#2d3a6b" stroke-width="1.1"/>
<path d="M377.65,352.90 V355.50" stroke="#2d3a6b" stroke-width="1"/>
<text x="385.50" y="356.80" font-size="7.5" text-anchor="start" fill="#333333" font-weight="normal" textLength="119" lengthAdjust="spacingAndGlyphs">non-targeted ADC, 1 mg/kg, qd x 1</text>
<path d="M372.5,365.20 H382.8" stroke="#70a052" stroke-width="1.1"/>
<path d="M377.65,363.90 V366.50" stroke="#70a052" stroke-width="1"/>
<text x="385.50" y="367.80" font-size="7.5" text-anchor="start" fill="#333333" font-weight="normal" textLength="101.8" lengthAdjust="spacingAndGlyphs">ADCT-402, 0.33 mg/kg, qd x 1</text>
<path d="M372.5,376.20 H382.8" stroke="#8e1a3e" stroke-width="1.1"/>
<path d="M377.65,374.90 V377.50" stroke="#8e1a3e" stroke-width="1"/>
<text x="385.50" y="378.80" font-size="7.5" text-anchor="start" fill="#333333" font-weight="normal" textLength="91.4" lengthAdjust="spacingAndGlyphs">ADCT-402, 1 mg/kg, qd x 1</text>
<rect x="0" y="0" width="520" height="1.3" fill="#000"/>
<rect x="0" y="0" width="1.25" height="461" fill="#000"/>
<rect x="518.75" y="0" width="1.25" height="461" fill="#000"/>
<rect x="0" y="459.65" width="520" height="1.35" fill="#000"/>
</svg></body></html>
